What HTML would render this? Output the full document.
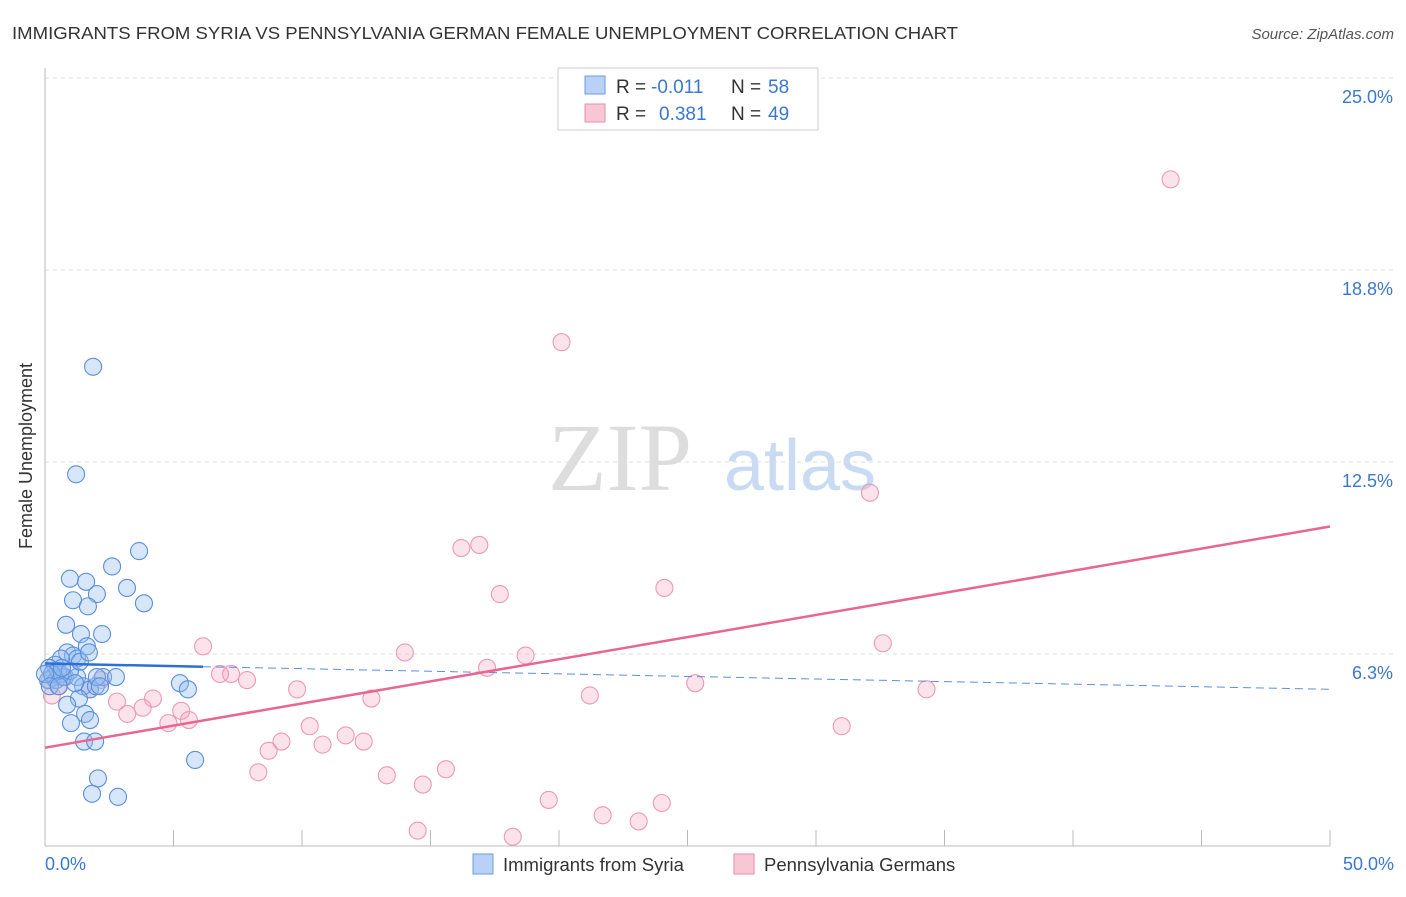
<!DOCTYPE html>
<html><head><meta charset="utf-8"><style>
body{margin:0;background:#fff;font-family:"Liberation Sans",sans-serif}
</style></head><body>
<svg width="1406" height="892" xmlns="http://www.w3.org/2000/svg" style="font-family:'Liberation Sans',sans-serif">
<text x="12" y="39" font-size="17.5" fill="#333" textLength="946" lengthAdjust="spacingAndGlyphs">IMMIGRANTS FROM SYRIA VS PENNSYLVANIA GERMAN FEMALE UNEMPLOYMENT CORRELATION CHART</text>
<text x="1394" y="39" font-size="15" fill="#555" font-style="italic" text-anchor="end">Source: ZipAtlas.com</text>
<text x="620" y="490" font-size="96" fill="#ddd" font-family="Liberation Serif" text-anchor="middle">ZIP</text>
<text x="800" y="490" font-size="72" fill="#c9dbf2" text-anchor="middle">atlas</text>
<g id="grid"></g>
<line x1="45" y1="68" x2="45" y2="846" stroke="#bbb"/>
<line x1="45" y1="846" x2="1330" y2="846" stroke="#bbb"/>
<g id="ticks"></g>
<text x="32" y="456" font-size="18" fill="#333" text-anchor="middle" transform="rotate(-90 32 456)">Female Unemployment</text>
<text x="45" y="870" font-size="18" fill="#3a78d0">0.0%</text>
<text x="1394" y="870" font-size="18" fill="#3a78d0" text-anchor="end">50.0%</text>
<g id="pts"></g>
<g id="trends"></g>
<g>
<rect x="558" y="68" width="260" height="62" fill="#fff" stroke="#ccc"/>
<rect x="585" y="76" width="20" height="18" fill="#b8d1f5" stroke="#6b9be0"/>
<rect x="585" y="104" width="20" height="18" fill="#f9c6d6" stroke="#ea8eab"/>
<text x="616" y="93" font-size="19" fill="#333">R =</text>
<text x="651" y="93" font-size="19" fill="#3a78d0">-0.011</text>
<text x="731" y="93" font-size="19" fill="#333">N =</text>
<text x="768" y="93" font-size="19" fill="#3a78d0">58</text>
<text x="616" y="120" font-size="19" fill="#333">R =</text>
<text x="659" y="120" font-size="19" fill="#3a78d0">0.381</text>
<text x="731" y="120" font-size="19" fill="#333">N =</text>
<text x="768" y="120" font-size="19" fill="#3a78d0">49</text>
</g>
<g>
<rect x="473" y="854" width="20" height="20" fill="#b8d1f5" stroke="#6b9be0"/>
<text x="503" y="871" font-size="18.5" fill="#333">Immigrants from Syria</text>
<rect x="734" y="854" width="20" height="20" fill="#f9c6d6" stroke="#ea8eab"/>
<text x="764" y="871" font-size="18.5" fill="#333">Pennsylvania Germans</text>
</g>
</svg>
<script>
const yTicks=[25.0,18.8,12.5,6.3];
const yTickVals=[25,18.75,12.5,6.25];
const blueX=[1.87,1.21,3.66,2.61,0.97,1.60,3.19,2.02,1.09,1.67,3.85,0.82,2.22,1.40,1.63,0.86,1.09,1.25,0.62,0.39,0.16,0.31,0.12,0.43,0.58,0.78,1.25,1.48,1.75,1.98,2.26,2.76,5.25,5.56,2.02,1.32,0.86,1.56,1.75,1.01,1.52,1.95,5.84,2.06,1.83,2.84,0.70,0.51,0.27,0.97,1.36,1.71,0,0.19,0.54,1.17,2.14,0.66];
const blueY=[15.6,12.1,9.6,9.1,8.7,8.6,8.4,8.2,8.0,7.8,7.9,7.2,6.9,6.9,6.5,6.3,6.2,6.1,6.1,5.9,5.8,5.5,5.4,5.4,5.6,5.5,5.5,5.2,5.1,5.2,5.5,5.5,5.3,5.1,5.5,4.8,4.6,4.3,4.1,4.0,3.4,3.4,2.8,2.2,1.7,1.6,5.5,5.7,5.6,5.7,6.0,6.3,5.6,5.2,5.2,5.3,5.2,5.8];
const pinkX=[43.8,20.1,32.1,16.2,16.9,17.7,24.1,6.15,32.6,14.0,18.7,17.2,6.81,7.24,7.86,2.18,9.81,12.7,21.2,25.3,34.3,4.2,2.8,3.8,5.3,3.2,5.6,4.8,10.3,31.0,11.7,9.2,10.8,12.4,8.7,8.3,13.3,15.6,14.7,19.6,24.0,21.7,23.1,14.5,18.2,0.27,1.75,0.51,0.19];
const pinkY=[21.7,16.4,11.5,9.7,9.8,8.2,8.4,6.5,6.6,6.3,6.2,5.8,5.6,5.6,5.4,5.4,5.1,4.8,4.9,5.3,5.1,4.8,4.7,4.5,4.4,4.3,4.1,4.0,3.9,3.9,3.6,3.4,3.3,3.4,3.1,2.4,2.3,2.5,2.0,1.5,1.4,1.0,0.8,0.5,0.3,4.9,5.1,5.2,5.4];
const X=v=>45+v/50*1285, Y=v=>846-v/25*768;
const ns="http://www.w3.org/2000/svg";
function mk(t,a,p){const e=document.createElementNS(ns,t);for(const k in a)e.setAttribute(k,a[k]);document.getElementById(p).appendChild(e);return e;}
yTickVals.forEach((v,i)=>{
 const l=mk('line',{x1:45,x2:1394,y1:Y(v),y2:Y(v),stroke:'#ddd','stroke-dasharray':'4,4'},'grid');
 
 
 const t=mk('text',{x:1393,y:Y(v)+25,'font-size':18,fill:'#3a78d0','text-anchor':'end'},'grid');
 t.textContent=yTicks[i].toFixed(1)+'%';
 
 
});
for(let i=0;i<=10;i++){const l=mk('line',{x1:X(i*5),x2:X(i*5),y1:830,y2:846,stroke:'#bbb'},'ticks');
 
 }
pinkX.forEach((v,i)=>{const c=mk('circle',{cx:X(v),cy:Y(pinkY[i]),r:8.5,fill:'rgba(244,160,190,0.3)',stroke:'#eb9ab4','stroke-width':1.1},'pts');
 
 });
blueX.forEach((v,i)=>{const c=mk('circle',{cx:X(v),cy:Y(blueY[i]),r:8.5,fill:'rgba(150,190,240,0.38)',stroke:'#5a8fdc','stroke-width':1.1},'pts');
 
 });
const bI=5.94,bS=-0.0168,pI=3.2,pS=0.144;
let e=mk('line',{x1:X(0),y1:Y(bI),x2:X(6.15),y2:Y(bI+bS*6.15),stroke:'#2d6fd6','stroke-width':2.5},'trends');


e=mk('line',{x1:X(6.15),y1:Y(bI+bS*6.15),x2:X(50),y2:Y(bI+bS*50),stroke:'#5a8fdc','stroke-width':1,'stroke-dasharray':'8,5'},'trends');


e=mk('line',{x1:X(0),y1:Y(pI),x2:X(50),y2:Y(pI+pS*50),stroke:'#e8668f','stroke-width':2.5},'trends');


</script>
</body></html>
